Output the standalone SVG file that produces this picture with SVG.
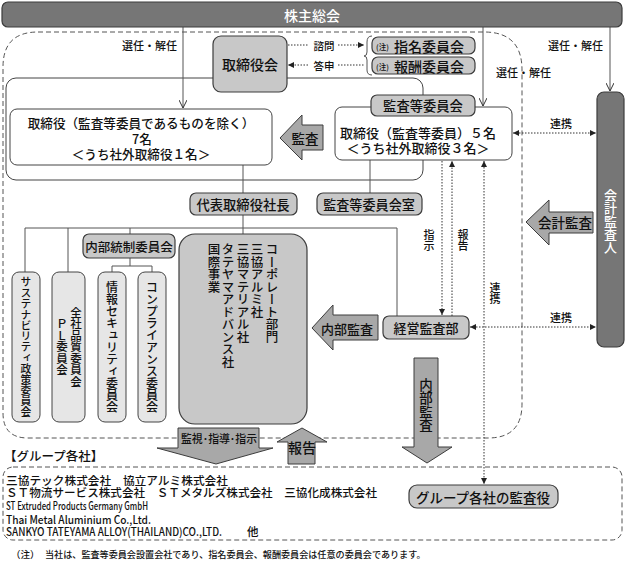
<svg xmlns="http://www.w3.org/2000/svg" width="625" height="561" viewBox="0 0 625 561">
<defs>
<style>
text{font-family:"Noto Sans CJK JP","Noto Sans CJK SC",sans-serif;fill:#111;font-weight:500}
.c{text-anchor:middle;dominant-baseline:central}
.s{dominant-baseline:central}
.box{fill:#c8c8c8;stroke:#3c3c3c;stroke-width:1.2}
.wbox{fill:#fff;stroke:#444;stroke-width:1}
.vbox{fill:#e6e6e6;stroke:#444;stroke-width:1}
.arr{fill:#a8a8a8;stroke:#3c3c3c;stroke-width:1}
.dark{fill:#767676;stroke:#3c3c3c;stroke-width:1.2}
.ln{stroke:#555;stroke-width:1;fill:none}
.dot{stroke:#333;stroke-width:1;stroke-dasharray:1.5 1.5;fill:none}
.dash{stroke:#555;stroke-width:1;stroke-dasharray:5 3;fill:none}
.v{writing-mode:vertical-rl}
</style>
<marker id="tri" viewBox="0 0 8 8" refX="8" refY="4" markerWidth="6" markerHeight="6" orient="auto-start-reverse" markerUnits="userSpaceOnUse">
<path d="M0,0 L8,4 L0,8 Z" fill="#222"/>
</marker>
<marker id="chev" viewBox="0 0 8 8" refX="8" refY="4" markerWidth="8" markerHeight="8" orient="auto" markerUnits="userSpaceOnUse">
<path d="M0,0 L8,4 L0,8" fill="none" stroke="#333" stroke-width="1"/>
</marker>
</defs>

<path class="dash" d="M38,32 L484,32 Q522,32 522,70 L522,404 Q522,438 488,438 L28,438 Q3,438 3,413 L3,67 Q3,32 38,32 Z"/>
<rect x="6" y="78" width="417" height="102" rx="10" fill="none" stroke="#444" stroke-width="1"/>

<g id="connectors">
<line class="ln" x1="183" y1="27" x2="183" y2="108" marker-end="url(#chev)"/>
<line class="ln" x1="483" y1="27" x2="483" y2="106" marker-end="url(#chev)"/>
<line class="ln" x1="610" y1="27" x2="610" y2="91" marker-end="url(#chev)"/>
<line class="dot" x1="288" y1="45" x2="308" y2="45"/>
<line class="dot" x1="338" y1="45" x2="364" y2="45" marker-end="url(#tri)"/>
<line class="dot" x1="308" y1="65" x2="288" y2="65" marker-end="url(#tri)"/>
<line class="dot" x1="338" y1="65" x2="365" y2="65"/>
<path class="ln" d="M372,36 Q367,36 367,42 L367,52 Q367,56 364,56 Q367,56 367,60 L367,70 Q367,75 372,75"/>
<line class="ln" x1="243" y1="165" x2="243" y2="193"/>
<line class="ln" x1="243" y1="215" x2="243" y2="234"/>
<line class="ln" x1="370" y1="160" x2="370" y2="193"/>
<polyline class="ln" points="25,272 25,228 397,228 397,316"/>
<line class="ln" x1="68" y1="228" x2="68" y2="272"/>
<line class="ln" x1="130" y1="228" x2="130" y2="234"/>
<polyline class="ln" points="130,258 130,266"/>
<polyline class="ln" points="112,272 112,266 152,266 152,272"/>
<line class="dot" x1="513" y1="133" x2="596" y2="133" marker-start="url(#tri)" marker-end="url(#tri)"/>
<line class="dot" x1="470" y1="327" x2="596" y2="327" marker-start="url(#tri)" marker-end="url(#tri)"/>
<line class="dot" x1="442" y1="161" x2="442" y2="315" marker-end="url(#tri)"/>
<line class="dot" x1="452" y1="316" x2="452" y2="161" marker-end="url(#tri)"/>
<line class="dot" x1="484" y1="161" x2="484" y2="484" marker-start="url(#tri)" marker-end="url(#tri)"/>
<text class="s" x="177" y="45" font-size="11" text-anchor="end">選任・解任</text>
<text class="s" x="496" y="72" font-size="11">選任・解任</text>
<text class="s" x="603" y="45" font-size="11" text-anchor="end">選任・解任</text>
<text class="c" x="324" y="45" font-size="10.5">諮問</text>
<text class="c" x="324" y="65" font-size="10.5">答申</text>
<text class="c" x="561" y="123" font-size="11">連携</text>
<text class="c" x="561" y="317" font-size="11">連携</text>
<text class="c v" x="429" y="240" font-size="11">指示</text>
<text class="c v" x="463" y="240" font-size="11">報告</text>
<text class="c v" x="495" y="293" font-size="11">連携</text>
</g>

<g id="shareholders">
<rect class="dark" x="2" y="2" width="620" height="25" rx="6"/>
<text class="c" x="312" y="15" font-size="14" style="fill:#fff">株主総会</text>
</g>

<g id="board">
<rect class="box" x="213" y="36" width="74" height="56" rx="8"/>
<text class="c" x="250" y="64" font-size="14">取締役会</text>
</g>

<g id="nomination">
<rect class="box" x="372" y="37" width="103" height="17" rx="6"/>
<text class="s" x="376" y="46" font-size="7.5">(注)</text>
<text class="c" x="429" y="45.5" font-size="14">指名委員会</text>
</g>
<g id="remuneration">
<rect class="box" x="372" y="57" width="103" height="17" rx="6"/>
<text class="s" x="376" y="66" font-size="7.5">(注)</text>
<text class="c" x="429" y="65.5" font-size="14">報酬委員会</text>
</g>

<g id="directors">
<rect class="wbox" x="10" y="109" width="262" height="56" rx="7"/>
<text class="c" x="141" y="122" font-size="12.6">取締役（監査等委員であるものを除く）</text>
<text class="c" x="142" y="138" font-size="12.6">7名</text>
<text class="c" x="141" y="153" font-size="12.6">＜うち社外取締役１名＞</text>
</g>

<g id="audit-arrow">
<polygon class="arr" points="280,138 302,115 302,125 323,125 323,150 302,150 302,160"/>
<text class="c" x="305" y="138" font-size="13.5">監査</text>
</g>

<g id="audit-members">
<rect class="wbox" x="335" y="107" width="177" height="53" rx="7"/>
<text class="c" x="418" y="132" font-size="13">取締役（監査等委員）５名</text>
<text class="c" x="418" y="147" font-size="13">＜うち社外取締役３名＞</text>
<rect class="box" x="371" y="95" width="104" height="21" rx="6"/>
<text class="c" x="423" y="105.5" font-size="13.3">監査等委員会</text>
</g>

<g id="accounting-auditor">
<rect class="dark" x="597" y="92" width="27" height="255" rx="7"/>
<text class="c v" x="610.5" y="221" font-size="13" style="fill:#fff">会計監査人</text>
</g>

<g id="accounting-audit-arrow">
<polygon class="arr" points="526,222 549,200 549,212 593,212 593,233 549,233 549,245"/>
<text class="c" x="565" y="222" font-size="13.5">会計監査</text>
</g>

<g id="president">
<rect class="box" x="190" y="193" width="107" height="22" rx="6"/>
<text class="c" x="243" y="204" font-size="13.3">代表取締役社長</text>
</g>

<g id="audit-office">
<rect class="box" x="317" y="193" width="105" height="22" rx="6"/>
<text class="c" x="369" y="204" font-size="13.1">監査等委員会室</text>
</g>

<g id="internal-control">
<rect class="box" x="83" y="234" width="92" height="24" rx="6"/>
<text class="c" x="129" y="246" font-size="12.5">内部統制委員会</text>
</g>

<g id="sustainability">
<rect class="vbox" x="12" y="272" width="28" height="150" rx="7"/>
<text class="c v" x="26" y="347" font-size="10.8">サステナビリティ政策委員会</text>
</g>
<g id="quality">
<rect class="vbox" x="52" y="272" width="33" height="150" rx="7"/>
<text class="c v" x="76" y="347" font-size="11.5">全社品質委員会</text>
<text class="c v" x="62" y="347" font-size="11.5">ＰＬ委員会</text>
</g>
<g id="infosec">
<rect class="vbox" x="98" y="272" width="28" height="150" rx="7"/>
<text class="c v" x="112" y="347" font-size="12">情報セキュリティ委員会</text>
</g>
<g id="compliance">
<rect class="vbox" x="138" y="272" width="28" height="150" rx="7"/>
<text class="c v" x="152" y="347" font-size="12">コンプライアンス委員会</text>
</g>

<g id="divisions">
<rect class="box" x="179" y="234" width="128" height="190" rx="16"/>
<text class="s v" x="272" y="243" font-size="12.5">コーポレート部門</text>
<text class="s v" x="257" y="243" font-size="12.5">三協アルミ社</text>
<text class="s v" x="243" y="243" font-size="12.5">三協マテリアル社</text>
<text class="s v" x="228" y="243" font-size="12.5">タテヤマアドバンス社</text>
<text class="s v" x="214" y="243" font-size="12.5">国際事業</text>
</g>

<g id="internal-audit-dept">
<rect class="box" x="383" y="316" width="86" height="23" rx="6"/>
<text class="c" x="426" y="327.5" font-size="13">経営監査部</text>
</g>

<g id="internal-audit-arrow-left">
<polygon class="arr" points="312,328 333,305 333,315 378,315 378,340 333,340 333,350"/>
<text class="c" x="347" y="328" font-size="13">内部監査</text>
</g>

<g id="internal-audit-arrow-down">
<polygon class="arr" points="414,358 438,358 438,447 452,447 427,463 402,447 414,447"/>
<text class="c v" x="426" y="405" font-size="13.5">内部監査</text>
</g>

<g id="supervise-arrow">
<polygon class="arr" points="178,428 259,428 259,448 273,448 216,464 157,448 178,448"/>
<text class="c" x="219" y="438" font-size="11.5" textLength="76" lengthAdjust="spacingAndGlyphs">監視･指導･指示</text>
</g>

<g id="report-arrow">
<polygon class="arr" points="302,428 327,442 315,442 315,464 288,464 288,442 277,442"/>
<text class="c" x="302" y="447" font-size="14">報告</text>
</g>

<g id="group-companies">
<text class="s" x="4" y="455" font-size="12.5" font-weight="bold">【グループ各社】</text>
<rect class="dash" x="3" y="467" width="619" height="73" rx="10"/>
<text class="s" x="6" y="479" font-size="11.7">三協テック株式会社　協立アルミ株式会社</text>
<text class="s" x="6" y="492" font-size="11.6">ＳＴ物流サービス株式会社　ＳＴメタルズ株式会社　三協化成株式会社</text>
<text class="s" x="6" y="505" font-size="11" textLength="142" lengthAdjust="spacingAndGlyphs">ST Extruded Products Germany GmbH</text>
<text class="s" x="6" y="518.5" font-size="11" textLength="145" lengthAdjust="spacingAndGlyphs">Thai Metal Aluminium Co.,Ltd.</text>
<text class="s" x="6" y="531" font-size="11" textLength="216" lengthAdjust="spacingAndGlyphs">SANKYO TATEYAMA ALLOY(THAILAND)CO.,LTD.</text>
<text class="s" x="247" y="531" font-size="11.5">他</text>
</g>

<g id="group-auditors">
<rect class="box" x="409" y="485" width="149" height="23" rx="8"/>
<text class="c" x="483" y="496.5" font-size="13.5">グループ各社の監査役</text>
</g>

<g id="footnote">
<text class="s" x="11" y="554" font-size="9.5">（注）</text>
<text class="s" x="45" y="554" font-size="9.1">当社は、監査等委員会設置会社であり、指名委員会、報酬委員会は任意の委員会であります。</text>
</g>
</svg>
